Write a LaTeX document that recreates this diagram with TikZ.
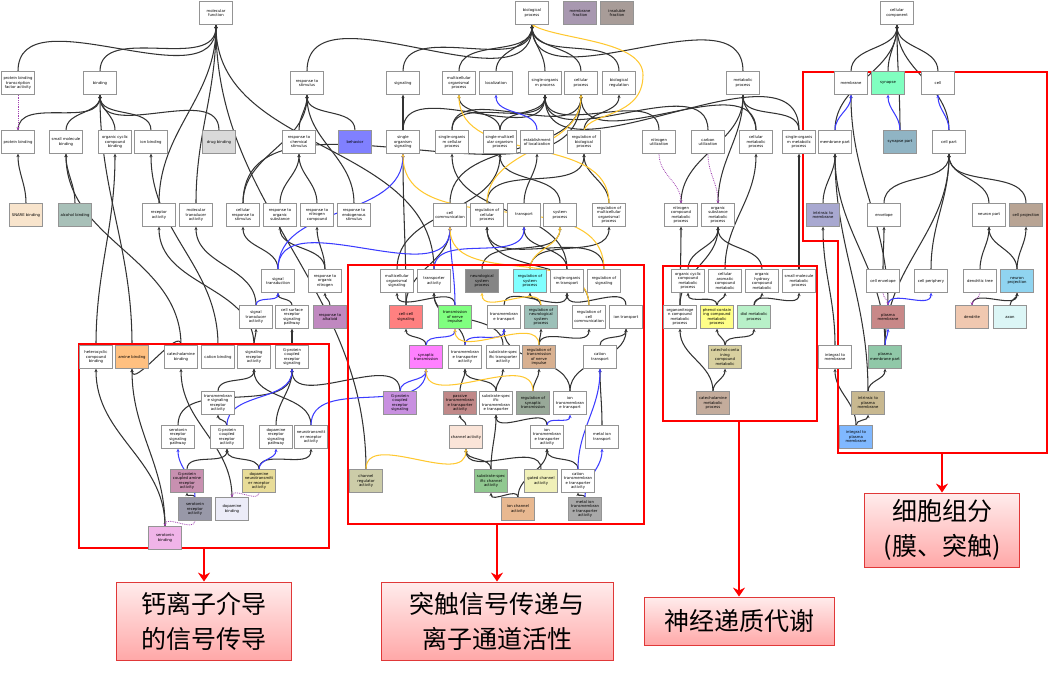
\documentclass[tikz,border=0pt]{standalone}
\usepackage{fontspec}
\newfontfamily\nf{DejaVu Sans}
\newfontfamily\cjk{Noto Sans CJK SC}
\usetikzlibrary{arrows.meta}
\definecolor{cY}{HTML}{FFC830}
\definecolor{cB}{HTML}{3C3CFF}
\definecolor{cP}{HTML}{A040B0}
\definecolor{cTop}{HTML}{FFECEC}
\definecolor{cBot}{HTML}{FFA8A8}
\definecolor{cBord}{HTML}{E03838}
\pgfdeclarelayer{bg}
\pgfdeclarelayer{mid}
\pgfsetlayers{bg,mid,main}
\tikzset{
 n/.style={draw=black!42, line width=0.9pt, fill=white, minimum width=33pt, minimum height=22.5pt, inner sep=0.3pt, align=center, font=\nf\fontsize{3.8}{4.5}\selectfont},
 e/.style={draw=black!80, line width=1.05pt, -{Stealth[length=3.4pt,width=3.2pt]}},
 eb/.style={e, draw=cB},
 ey/.style={e, draw=cY},
 ed/.style={draw=cP, line width=0.8pt, densely dotted, -{Stealth[length=3pt,width=3pt]}},
 rbx/.style={draw=red, line width=2.6pt},
 rarr/.style={draw=red, line width=2.6pt, -{Stealth[length=9pt,width=12pt]}},
 callout/.style={draw=cBord, line width=0.8pt, top color=cTop, bottom color=cBot, align=center, font=\cjk\fontsize{25}{35}\selectfont},
}
\begin{document}
\begin{tikzpicture}[x=1pt,y=-1pt]
\useasboundingbox (0,0) rectangle (1050,680);
% row 13
\node[n] (mf) at (216,13) {molecular\\function};
\node[n] (bp) at (532,13) {biological\\process};
\node[n, fill={rgb,255:red,168;green,152;blue,176}] (mfrac) at (580,13) {membrane\\fraction};
\node[n, fill={rgb,255:red,168;green,156;blue,152}] (ifrac) at (617,13) {insoluble\\fraction};
\node[n] (cc) at (897,13) {cellular\\component};
% row 83
\node[n] (pbtf) at (18,83) {protein binding\\transcription\\factor activity};
\node[n] (bind) at (100,83) {binding};
\node[n] (rts) at (307,83) {response to\\stimulus};
\node[n] (sig) at (403,83) {signaling};
\node[n] (mop) at (459,83) {multicellular\\organismal\\process};
\node[n] (loc) at (496,83) {localization};
\node[n] (sop) at (545,83) {single-organis\\m process};
\node[n] (cp) at (581,83) {cellular\\process};
\node[n] (breg) at (619,83) {biological\\regulation};
\node[n] (metp) at (743,83) {metabolic\\process};
\node[n] (mem) at (851,83) {membrane};
\node[n, fill={rgb,255:red,128;green,255;blue,192}] (syn) at (888,83) {synapse};
\node[n] (cell) at (938,83) {cell};
% row 142
\node[n] (pb) at (18,142) {protein binding};
\node[n] (smb) at (66,142) {small molecule\\binding};
\node[n] (occb) at (115,142) {organic cyclic\\compound\\binding};
\node[n] (ionb) at (151,142) {ion binding};
\node[n, fill=black!15] (drugb) at (219,142) {drug binding};
\node[n] (rcs) at (299,142) {response to\\chemical\\stimulus};
\node[n, fill={rgb,255:red,128;green,128;blue,255}] (beh) at (355,142) {behavior};
\node[n] (sos) at (403,142) {single\\organism\\signaling};
\node[n] (socp) at (452,142) {single-organis\\m cellular\\process};
\node[n] (smop) at (500,142) {single-multicell\\ular organism\\process};
\node[n] (eol) at (537,142) {establishment\\of localization};
\node[n] (rbp) at (584,142) {regulation of\\biological\\process};
\node[n] (nutil) at (659,142) {nitrogen\\utilization};
\node[n] (cutil) at (708,142) {carbon\\utilization};
\node[n] (cmp) at (756,142) {cellular\\metabolic\\process};
\node[n] (somp) at (799,142) {single-organis\\m metabolic\\process};
\node[n] (memp) at (835,142) {membrane part};
\node[n, fill={rgb,255:red,144;green,180;blue,196}] (synp) at (900,142) {synapse part};
\node[n] (cellp) at (949,142) {cell part};
% row 215
\node[n, fill={rgb,255:red,248;green,228;blue,204}] (snare) at (26,215) {SNARE binding};
\node[n, fill={rgb,255:red,168;green,192;blue,184}] (alcb) at (75,215) {alcohol binding};
\node[n] (ra) at (159,215) {receptor\\activity};
\node[n] (mta) at (196,215) {molecular\\transducer\\activity};
\node[n] (crs) at (243,215) {cellular\\response to\\stimulus};
\node[n] (ros) at (280,215) {response to\\organic\\substance};
\node[n] (rnc) at (317,215) {response to\\nitrogen\\compound};
\node[n] (res) at (354,215) {response to\\endogenous\\stimulus};
\node[n] (ccom) at (450,215) {cell\\communication};
\node[n] (rcp) at (487,215) {regulation of\\cellular\\process};
\node[n] (trans) at (524,215) {transport};
\node[n] (sysp) at (560,215) {system\\process};
\node[n] (rmop) at (609,215) {regulation of\\multicellular\\organismal\\process};
\node[n] (ncmp) at (681,215) {nitrogen\\compound\\metabolic\\process};
\node[n] (osmp) at (718,215) {organic\\substance\\metabolic\\process};
\node[n, fill={rgb,255:red,168;green,168;blue,208}] (itm) at (823,215) {intrinsic to\\membrane};
\node[n] (env) at (884,215) {envelope};
\node[n] (neup) at (989,215) {neuron part};
\node[n, fill={rgb,255:red,184;green,164;blue,148}] (cproj) at (1026,215) {cell projection};
% row 281
\node[n] (st) at (278,281) {signal\\transduction};
\node[n] (ron) at (325,281) {response to\\organic\\nitrogen};
\node[n] (mos) at (397,281) {multicellular\\organismal\\signaling};
\node[n] (ta) at (434,281) {transporter\\activity};
\node[n, fill=black!48] (nsp) at (482,281) {neurological\\system\\process};
\node[n, fill={rgb,255:red,128;green,255;blue,255}] (rsp) at (530,281) {regulation of\\system\\process};
\node[n] (sot) at (567,281) {single-organis\\m transport};
\node[n] (rsig) at (604,281) {regulation of\\signaling};
\node[n] (occmp) at (688,281) {organic cyclic\\compound\\metabolic\\process};
\node[n] (camp) at (725,281) {cellular\\aromatic\\compound\\metabolic};
\node[n] (ohcmp) at (762,281) {organic\\hydroxy\\compound\\metabolic};
\node[n] (smmp) at (799,281) {small-molecule\\metabolic\\process};
\node[n] (cenv) at (883,281) {cell envelope};
\node[n] (cper) at (931,281) {cell periphery};
\node[n] (dtree) at (980,281) {dendritic tree};
\node[n, fill={rgb,255:red,144;green,212;blue,240}] (nproj) at (1017,281) {neuron\\projection};
% row 317
\node[n] (sta) at (256,317) {signal\\transducer\\activity};
\node[n] (csrsp) at (292,317) {cell surface\\receptor\\signaling\\pathway};
\node[n, fill={rgb,255:red,192;green,136;blue,192}] (ralk) at (330,317) {response to\\alkaloid};
\node[n, fill={rgb,255:red,255;green,128;blue,128}] (ccs) at (406,317) {cell-cell\\signaling};
\node[n, fill={rgb,255:red,128;green,255;blue,128}] (tni) at (455,317) {transmission\\of nerve\\impulse};
\node[n] (tmt) at (504,317) {transmembran\\e transport};
\node[n, fill={rgb,255:red,156;green,192;blue,184}] (rnsp) at (541,317) {regulation of\\neurological\\system\\process};
\node[n] (rcc) at (589,317) {regulation of\\cell\\communication};
\node[n] (iont) at (626,317) {ion transport};
\node[n] (onmp) at (680,317) {organonitroge\\n compound\\metabolic\\process};
\node[n, fill={rgb,255:red,255;green,255;blue,136}] (pcmp) at (717,317) {phenol-contain\\ing compound\\metabolic\\process};
\node[n, fill={rgb,255:red,184;green,240;blue,200}] (diol) at (754,317) {diol metabolic\\process};
\node[n, fill={rgb,255:red,200;green,136;blue,136}] (pm) at (888,317) {plasma\\membrane};
\node[n, fill={rgb,255:red,240;green,200;blue,176}] (dend) at (972,317) {dendrite};
\node[n, fill={rgb,255:red,220;green,246;blue,246}] (axon) at (1010,317) {axon};
% row 357
\node[n] (hcb) at (96,357) {heterocyclic\\compound\\binding};
\node[n, fill={rgb,255:red,255;green,192;blue,128}] (amb) at (132,357) {amine binding};
\node[n] (cab) at (181,357) {catecholamine\\binding};
\node[n] (catb) at (218,357) {cation binding};
\node[n] (sra) at (254,357) {signaling\\receptor\\activity};
\node[n] (gpcrs) at (292,357) {G-protein\\coupled\\receptor\\signaling};
\node[n, fill={rgb,255:red,255;green,128;blue,255}] (syt) at (426,357) {synaptic\\transmission};
\node[n] (tmta) at (465,357) {transmembran\\e transporter\\activity};
\node[n] (ssta) at (503,357) {substrate-spec\\ific transporter\\activity};
\node[n, fill={rgb,255:red,216;green,176;blue,144}] (rtni) at (539,357) {regulation of\\transmission\\of nerve\\impulse};
\node[n] (catt) at (600,357) {cation\\transport};
\node[n, fill={rgb,255:red,216;green,208;blue,160}] (ccmp) at (725,357) {catechol-conta\\ining\\compound\\metabolic};
\node[n] (itmem) at (835,357) {integral to\\membrane};
\node[n, fill={rgb,255:red,144;green,200;blue,168}] (pmp) at (885,357) {plasma\\membrane part};
% row 403
\node[n] (tsra) at (218,403) {transmembran\\e signaling\\receptor\\activity};
\node[n, fill={rgb,255:red,200;green,144;blue,224}] (gpcrs2) at (400,403) {G-protein\\coupled\\receptor\\signaling};
\node[n, fill={rgb,255:red,192;green,136;blue,136}] (ptta) at (460,403) {passive\\transmembran\\e transporter\\activity};
\node[n] (sstt) at (496,403) {substrate-spec\\ific\\transmembran\\e transporter};
\node[n, fill={rgb,255:red,152;green,168;blue,152}] (rst) at (533,403) {regulation of\\synaptic\\transmission};
\node[n] (itmt) at (570,403) {ion\\transmembran\\e transport};
\node[n, fill={rgb,255:red,196;green,172;blue,156}] (cam) at (713,403) {catecholamine\\metabolic\\process};
\node[n, fill={rgb,255:red,200;green,184;blue,144}] (itpm) at (868,403) {intrinsic to\\plasma\\membrane};
% row 437
\node[n] (srsp) at (178,437) {serotonin\\receptor\\signaling\\pathway};
\node[n] (gpcra) at (227,437) {G-protein\\coupled\\receptor\\activity};
\node[n] (drsp) at (276,437) {dopamine\\receptor\\signaling\\pathway};
\node[n] (ntra) at (311,437) {neurotransmitt\\er receptor\\activity};
\node[n, fill={rgb,255:red,250;green,228;blue,216}] (chan) at (466,437) {channel activity};
\node[n] (itta) at (547,437) {ion\\transmembran\\e transporter\\activity};
\node[n] (mit) at (602,437) {metal ion\\transport};
\node[n, fill={rgb,255:red,128;green,184;blue,255}] (intpm) at (856,437) {integral to\\plasma\\membrane};
% row 481
\node[n, fill={rgb,255:red,200;green,144;blue,176}] (gpara) at (187,481) {G-protein\\coupled amine\\receptor\\activity};
\node[n, fill={rgb,255:red,232;green,220;blue,152}] (dnra) at (259,481) {dopamine\\neurotransmitt\\er receptor\\activity};
\node[n, fill={rgb,255:red,204;green,204;blue,168}] (chreg) at (366,481) {channel\\regulator\\activity};
\node[n, fill={rgb,255:red,144;green,200;blue,144}] (sschan) at (491,481) {substrate-spec\\ific channel\\activity};
\node[n, fill={rgb,255:red,240;green,240;blue,184}] (gchan) at (541,481) {gated channel\\activity};
\node[n] (ctta) at (578,481) {cation\\transmembran\\e transporter\\activity};
% row 509
\node[n, fill={rgb,255:red,152;green,152;blue,168}] (srecact) at (195,509) {serotonin\\receptor\\activity};
\node[n, fill={rgb,255:red,236;green,236;blue,248}] (dopb) at (232,509) {dopamine\\binding};
\node[n, fill={rgb,255:red,232;green,184;blue,144}] (ionchan) at (518,509) {ion channel\\activity};
\node[n, fill={rgb,255:red,168;green,168;blue,168}] (mitta) at (585,509) {metal ion\\transmembran\\e transporter\\activity};
% row 538
\node[n, fill={rgb,255:red,240;green,180;blue,232}] (serb) at (165,538) {serotonin\\binding};

\begin{pgfonlayer}{bg}
\foreach \a/\b in {pbtf/mf, bind/mf, ra/mf, mta/mf, ta/mf, chreg/mf,
 pb/bind, smb/bind, occb/bind, ionb/bind, drugb/bind, amb/bind,
 snare/pb, alcb/smb, hcb/occb, cab/amb, cab/smb, catb/ionb,
 sra/ra, sra/sta, sta/mta, tsra/sra, gpcra/tsra, gpara/gpcra, srecact/gpara, dnra/gpcra, dnra/ntra, ntra/sra, dopb/cab, serb/amb, serb/hcb,
 gpcrs/csrsp, csrsp/st, st/crs, srsp/gpcrs, drsp/gpcrs, gpcrs2/gpcrs,
 crs/rts, crs/cp, rcs/rts, beh/rts, ros/rcs, rnc/rcs, res/rts, ron/ros, ron/rnc, ralk/ron,
 rts/bp, sig/bp, mop/bp, loc/bp, sop/bp, cp/bp, breg/bp, metp/bp,
 sos/sig, sos/sop, socp/sop, socp/cp, smop/mop, smop/sop, rbp/breg, nutil/sop, cutil/sop, cmp/metp, cmp/cp, somp/metp, somp/sop,
 ccom/cp, rcp/rbp, trans/eol, sysp/smop, rmop/rbp, ncmp/metp, osmp/metp,
 mos/smop, nsp/sysp, rsp/rmop, sot/trans, sot/socp, rsig/rcp,
 occmp/osmp, camp/cmp, ohcmp/osmp, smmp/somp,
 ccs/ccom, ccs/sos, tni/mos, tmt/sot, rnsp/rsp, rcc/rcp, iont/sot,
 onmp/ncmp, onmp/osmp, pcmp/camp, pcmp/occmp, diol/ohcmp, diol/smmp,
 syt/ccs, tmta/ta, ssta/ta, rtni/rnsp, rtni/rcc, catt/iont, ccmp/pcmp, ccmp/diol,
 ptta/tmta, sstt/tmta, sstt/ssta, rst/rtni, itmt/tmt, itmt/iont, cam/onmp, cam/ccmp,
 chan/ptta, itta/sstt, mit/catt, sschan/chan, sschan/sstt, gchan/chan, ctta/itta, ionchan/sschan, ionchan/itta, mitta/ctta,
 mem/cc, syn/cc, cell/cc, memp/cc, synp/cc, cellp/cc, itm/memp, env/cellp, neup/cellp, cproj/cellp, cenv/env, cper/cellp, dtree/neup, nproj/neup, nproj/cproj, pm/mem, dend/nproj, axon/nproj, itmem/itm, pmp/memp, pmp/cellp, itpm/pmp, itpm/memp, intpm/itmem, intpm/itpm}
 \draw[e] (\a.north) to[out=90,in=-90] (\b.south);
\foreach \a/\b in {eol/loc, st/sos, st/ccom, sta/st, ta/trans, tni/ccom, syt/tni, tmta/tmt, itta/itmt, ctta/catt, mitta/mit, gpcra/gpcrs, ntra/syt, srecact/srsp, dnra/drsp, gpcrs2/syt, memp/mem, synp/syn, cellp/cell, pm/cper, pmp/pm}
 \draw[eb] (\a.north) to[out=90,in=-90] (\b.south);
\foreach \a/\b in {rsig/sos, rsp/sysp, rmop/mop, rcp/cp, rcc/ccom, rnsp/nsp, rtni/tni, rst/syt, chreg/chan}
 \draw[ey] (\a.north) to[out=90,in=-90] (\b.south);
\draw[ey] (rbp.north) .. controls (590,112) and (643,118) .. (643,75) .. controls (643,40) and (560,40) .. (bp.south);
\foreach \a/\b in {pbtf/pb, nutil/ncmp, cutil/osmp, cenv/pm, dtree/dend, dnra/dopb, srecact/serb}
 \draw[ed] (\a.south) to[out=-90,in=90] (\b.north);
\end{pgfonlayer}

\begin{pgfonlayer}{mid}
\draw[rbx] (79,344) rectangle (329,548);
\draw[rbx] (348,265) rectangle (644,524);
\draw[rbx] (663,266) rectangle (817,421);
\draw[rbx] (803,72) -- (1047,72) -- (1047,453) -- (838,453) -- (838,241) -- (803,241) -- cycle;
\end{pgfonlayer}

% callouts
\node[callout, minimum width=175pt, minimum height=78pt] (cA) at (204,621) {钙离子介导\\的信号传导};
\node[callout, minimum width=232pt, minimum height=78pt] (cB) at (497,621) {突触信号传递与\\离子通道活性};
\node[callout, minimum width=190pt, minimum height=48pt] (cC) at (739,621) {神经递质代谢};
\node[callout, minimum width=155pt, minimum height=74pt] (cD) at (942,530) {细胞组分\\(膜、突触)};
\coordinate (rA) at (204,548);
\coordinate (rB) at (497,524);
\coordinate (rC) at (739,421);
\coordinate (rD) at (942,453);
\draw[rarr] (rA) -- (rA |- cA.north);
\draw[rarr] (rB) -- (rB |- cB.north);
\draw[rarr] (rC) -- (rC |- cC.north);
\draw[rarr] (rD) -- (rD |- cD.north);
\end{tikzpicture}
\end{document}
